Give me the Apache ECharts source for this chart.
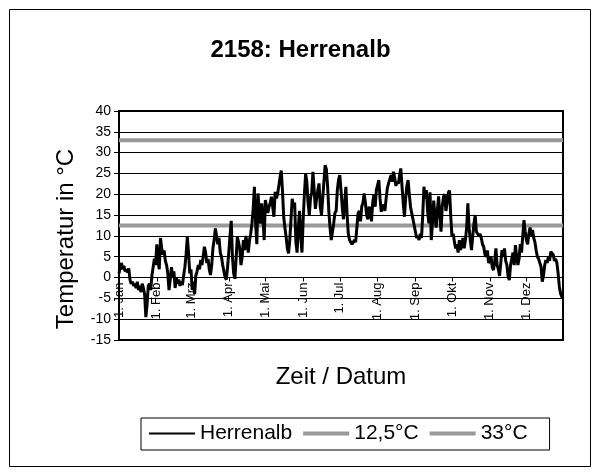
<!DOCTYPE html>
<html>
<head>
<meta charset="utf-8">
<script src="https://cdn.jsdelivr.net/npm/echarts@6/dist/echarts.min.js"></script>
<style>
html, body { margin: 0; padding: 0; background: #fff; }
#chart { width: 601px; height: 474px; }
</style>
</head>
<body>
<div id="chart"></div>
<script>
"use strict";

var FONT = '"Liberation Sans", Arial, sans-serif';

// month names / lengths for the day categories
var monthNames = ['Jan', 'Feb', 'Mrz', 'Apr', 'Mai', 'Jun', 'Jul', 'Aug', 'Sep', 'Okt', 'Nov', 'Dez'];
var monthDays = [31, 28, 31, 30, 31, 30, 31, 31, 30, 31, 30, 31];

// daily mean temperature Herrenalb (°C)
var jan = [1.0, 2.5, 3.5, 2.0, 2.8, 1.5, 2.0, 1.2, 2.2, -0.5, -1.5, -1.0, -2.0, -1.5, -2.5, -1.0, -3.0, -2.0, -3.5, -1.5, -2.5, -4.0, -9.5, -6.5, -2.0, -1.5, -3.0, 0.5, 2.5, 4.5, 3.0];
var feb = [8.0, 4.0, 2.0, 9.5, 7.0, 5.5, 6.5, 4.0, 3.0, 1.0, -3.0, -0.5, 2.5, 0.0, 1.5, -2.5, 0.0, -1.5, -0.5, -2.0, -1.0, -1.8, 0.5, 2.5, 5.5, 9.8, 6.0, 1.0];
var mrz = [2.0, -3.0, -1.0, -4.0, 0.5, 1.5, 3.0, 2.0, 4.2, 3.0, 5.0, 7.4, 6.0, 3.5, 4.5, 2.0, 0.6, 3.0, 7.0, 9.0, 11.8, 10.0, 8.0, 9.5, 6.0, 5.0, 3.0, 1.5, 0.0, -0.5, 2.5];
var apr = [6.0, 10.0, 13.6, 5.0, 1.0, -0.3, 4.5, 9.8, 8.5, 7.0, 3.0, 5.0, 9.0, 6.6, 10.0, 8.2, 6.0, 9.0, 10.6, 13.0, 16.5, 21.8, 13.0, 8.0, 20.2, 15.0, 13.0, 17.8, 14.6, 9.0];
var mai = [18.6, 17.0, 15.5, 17.0, 18.0, 19.4, 17.0, 14.6, 20.6, 19.0, 20.0, 22.0, 24.0, 25.7, 21.0, 14.6, 12.0, 9.8, 7.0, 5.8, 9.0, 14.0, 18.9, 17.0, 18.0, 8.6, 6.0, 12.0, 16.0, 9.8, 6.0];
var jun = [14.0, 20.0, 24.9, 23.0, 18.0, 15.0, 19.0, 20.5, 25.4, 21.0, 16.5, 19.0, 21.0, 22.6, 17.0, 15.0, 19.0, 23.0, 27.0, 26.0, 22.0, 16.0, 12.0, 9.0, 8.9, 13.0, 15.5, 16.0, 21.0, 23.5];
var jul = [24.6, 21.0, 17.0, 14.0, 18.0, 21.8, 15.0, 10.5, 9.0, 8.5, 8.0, 8.5, 9.0, 8.5, 12.0, 15.4, 16.0, 13.5, 17.0, 18.0, 20.2, 18.0, 15.0, 14.0, 17.0, 16.0, 13.5, 18.0, 20.0, 17.0, 21.0];
var aug = [21.0, 23.4, 19.0, 15.8, 17.0, 17.5, 16.0, 19.0, 21.5, 22.6, 23.0, 24.6, 23.0, 25.4, 24.0, 22.0, 23.0, 22.5, 24.5, 26.2, 22.0, 18.0, 14.6, 19.0, 22.0, 23.4, 20.0, 17.0, 15.4, 14.0, 13.8];
var sep = [11.0, 9.5, 10.0, 9.0, 10.5, 9.5, 15.0, 21.8, 19.0, 21.0, 16.0, 13.0, 20.5, 9.0, 13.0, 18.5, 15.0, 12.0, 16.0, 19.5, 15.0, 11.0, 17.0, 19.4, 20.0, 16.0, 18.0, 20.4, 20.9, 14.6];
var okt = [9.8, 10.5, 8.5, 7.0, 8.0, 6.0, 9.0, 6.6, 8.0, 9.5, 7.0, 9.0, 12.0, 17.8, 12.0, 9.0, 6.6, 10.0, 13.0, 15.0, 11.0, 10.5, 10.0, 10.5, 9.5, 8.0, 7.4, 5.5, 5.0, 6.5, 3.5];
var nov = [4.0, 5.0, 2.5, 1.8, 4.0, 7.0, 3.0, 2.0, 0.4, 3.5, 6.6, 5.0, 7.0, 4.0, 3.0, 0.2, -0.6, 3.0, 4.5, 6.0, 3.0, 7.8, 5.0, 3.0, 4.5, 8.0, 6.0, 10.0, 13.8, 11.0];
var dez = [9.0, 8.0, 10.5, 12.0, 10.0, 11.4, 9.5, 8.5, 6.5, 5.0, 4.5, 3.5, 2.6, -1.0, 0.5, 3.0, 4.2, 3.5, 5.0, 4.0, 6.2, 6.6, 5.5, 4.0, 4.5, 3.5, 1.0, -2.2, -3.8, -4.6, -5.0];

// threshold lines
var limitLow = 12.5;
var limitHigh = 33;

// y axis range
var yMin = -15;
var yMax = 40;
var yStep = 5;

var GRID_TOP = 111;
var GRID_BOTTOM = 134;
var GRID_HEIGHT = 474 - GRID_TOP - GRID_BOTTOM;

var days = [];
for (var m = 0; m < monthNames.length; m++) {
	for (var d = 1; d <= monthDays[m]; d++) {
		days.push(d + '. ' + monthNames[m]);
	}
}
var temps = [].concat(jan, feb, mrz, apr, mai, jun, jul, aug, sep, okt, nov, dez);

// x axis sits on the zero line, move it up from the bottom of the grid
var zeroOffset = -GRID_HEIGHT * (0 - yMin) / (yMax - yMin);

function isMonthStart(index, value) {
	return value.indexOf('1. ') === 0;
}

var chart = echarts.init(document.getElementById('chart'));

chart.setOption({
	animation: false,
	backgroundColor: '#fff',
	title: {
		text: '2158: Herrenalb',
		left: 'center',
		top: 33,
		textStyle: { fontFamily: FONT, fontSize: 24, fontWeight: 'bold', color: '#000' }
	},
	grid: {
		show: true,
		borderColor: '#000',
		borderWidth: 2,
		left: 119,
		top: GRID_TOP,
		right: 38,
		bottom: GRID_BOTTOM
	},
	legend: {
		left: 141,
		top: 418,
		padding: [5, 22, 6, 7],
		itemGap: 9,
		itemWidth: 46,
		itemHeight: 14,
		borderColor: '#000',
		borderWidth: 1,
		borderRadius: 0,
		textStyle: { fontFamily: FONT, fontSize: 21, color: '#000' },
		data: [
			{ name: 'Herrenalb', lineStyle: { width: 2, color: '#000' }, itemStyle: { opacity: 0 } },
			{ name: '12,5°C', lineStyle: { width: 4, color: '#999' }, itemStyle: { opacity: 0 } },
			{ name: '33°C', lineStyle: { width: 4, color: '#999' }, itemStyle: { opacity: 0 } }
		]
	},
	xAxis: {
		type: 'category',
		data: days,
		boundaryGap: false,
		offset: zeroOffset,
		axisLine: { onZero: false, lineStyle: { color: '#000', width: 1 } },
		axisTick: { interval: isMonthStart, length: 4, lineStyle: { color: '#000' } },
		axisLabel: {
			interval: isMonthStart,
			rotate: 90,
			margin: 5,
			fontFamily: FONT,
			fontSize: 13,
			color: '#000'
		},
		splitLine: { show: false }
	},
	yAxis: {
		type: 'value',
		min: yMin,
		max: yMax,
		interval: yStep,
		axisLine: { show: true, lineStyle: { color: '#000', width: 1 } },
		axisTick: { show: true, length: 5, lineStyle: { color: '#000' } },
		axisLabel: { margin: 8, fontFamily: FONT, fontSize: 14, color: '#000' },
		splitLine: { show: true, lineStyle: { color: '#000', width: 1 } }
	},
	series: [
		{
			name: 'Herrenalb',
			type: 'line',
			data: temps,
			symbol: 'none',
			z: 3,
			lineStyle: { color: '#000', width: 3 },
			itemStyle: { color: '#000' }
		},
		{
			name: '12,5°C',
			type: 'line',
			data: [[days[0], limitLow], [days[days.length - 1], limitLow]],
			symbol: 'none',
			z: 2,
			lineStyle: { color: '#999', width: 4 },
			itemStyle: { color: '#999' }
		},
		{
			name: '33°C',
			type: 'line',
			data: [[days[0], limitHigh], [days[days.length - 1], limitHigh]],
			symbol: 'none',
			z: 2,
			lineStyle: { color: '#999', width: 4 },
			itemStyle: { color: '#999' }
		}
	],
	graphic: [
		{
			type: 'rect',
			shape: { x: 9.5, y: 9.5, width: 581, height: 457 },
			style: { fill: null, stroke: '#000', lineWidth: 1 },
			silent: true
		},
		{
			type: 'text',
			x: 66,
			y: 239,
			rotation: Math.PI / 2,
			style: {
				text: 'Temperatur in °C',
				fontFamily: FONT,
				fontSize: 24,
				fill: '#000',
				align: 'center',
				verticalAlign: 'middle'
			}
		},
		{
			type: 'text',
			x: 341,
			y: 377,
			style: {
				text: 'Zeit / Datum',
				fontFamily: FONT,
				fontSize: 24,
				fill: '#000',
				align: 'center',
				verticalAlign: 'middle'
			}
		}
	]
});
</script>
</body>
</html>
